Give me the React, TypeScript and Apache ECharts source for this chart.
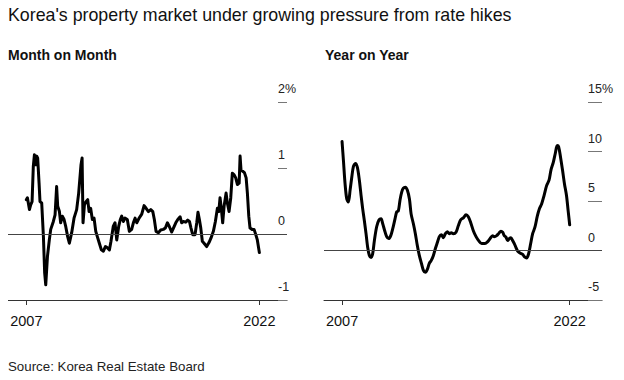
import React, { useEffect, useRef } from "react";
import * as echarts from "echarts";

const TITLE = "Korea's property market under growing pressure from rate hikes";
const LEFT_SUBTITLE = "Month on Month";
const RIGHT_SUBTITLE = "Year on Year";
const SOURCE = "Source: Korea Real Estate Board";

const xTickYears = [2007, 2022];

const momYears = [
  2007.0, 2007.07, 2007.2, 2007.28, 2007.37, 2007.45, 2007.52, 2007.6, 2007.67, 2007.73,
  2007.82, 2007.88, 2007.99, 2008.1, 2008.18, 2008.25, 2008.36, 2008.48, 2008.57, 2008.74,
  2008.85, 2008.95, 2009.02, 2009.13, 2009.21, 2009.32, 2009.43, 2009.53, 2009.66, 2009.77,
  2009.92, 2010.07, 2010.24, 2010.37, 2010.52, 2010.59, 2010.65, 2010.74, 2010.84, 2010.95,
  2011.04, 2011.14, 2011.25, 2011.36, 2011.47, 2011.57, 2011.7, 2011.83, 2011.96, 2012.09,
  2012.22, 2012.35, 2012.45, 2012.6, 2012.71, 2012.82, 2012.95, 2013.05, 2013.14, 2013.25,
  2013.35, 2013.5, 2013.63, 2013.78, 2013.89, 2014.0, 2014.11, 2014.26, 2014.43, 2014.58,
  2014.71, 2014.86, 2015.01, 2015.14, 2015.24, 2015.35, 2015.5, 2015.65, 2015.82, 2015.95,
  2016.08, 2016.21, 2016.36, 2016.47, 2016.62, 2016.75, 2016.9, 2017.0, 2017.11, 2017.26,
  2017.39, 2017.5, 2017.6, 2017.71, 2017.86, 2017.97, 2018.05, 2018.14, 2018.23, 2018.33,
  2018.44, 2018.61, 2018.76, 2018.89, 2019.04, 2019.17, 2019.3, 2019.39, 2019.47, 2019.56,
  2019.64, 2019.73, 2019.86, 2019.94, 2020.05, 2020.16, 2020.26, 2020.37, 2020.48, 2020.59,
  2020.7, 2020.76, 2020.82, 2020.93, 2021.04, 2021.15, 2021.23, 2021.32, 2021.4, 2021.53,
  2021.66, 2021.77, 2021.87, 2022.0,
];
const momValues = [
  0.52, 0.55, 0.37, 0.44, 0.49, 1.03, 1.2, 1.05, 1.18, 1.15,
  0.77, 0.49, 0.47, -0.04, -0.59, -0.77, -0.34, -0.09, 0.07, 0.19,
  0.29, 0.72, 0.42, 0.34, 0.17, 0.27, 0.22, 0.12, -0.04, -0.14,
  0.02, 0.24, 0.37, 0.62, 1.05, 1.15, 0.17, 0.44, 0.49, 0.52,
  0.34, 0.39, 0.22, 0.24, 0.04, -0.04, -0.14, -0.24, -0.26, -0.19,
  -0.21, -0.24, -0.11, 0.12, 0.17, -0.09, 0.12, 0.22, 0.27, 0.19,
  0.24, 0.22, 0.04, 0.07, 0.17, 0.24, 0.17, 0.24, 0.3, 0.43,
  0.39, 0.34, 0.37, 0.34, 0.22, 0.04, 0.02, 0.06, 0.07, 0.09,
  0.17, 0.11, 0.03, 0.09, 0.17, 0.22, 0.26, 0.17, 0.19, 0.18,
  0.21, 0.19, 0.09, -0.01, -0.01, 0.17, 0.33, 0.22, 0.09, -0.11,
  -0.14, -0.19, -0.13, -0.06, 0.04, 0.19, 0.39, 0.34, 0.55, 0.37,
  0.17, 0.42, 0.62, 0.47, 0.34, 0.55, 0.92, 0.9, 0.85, 0.75,
  0.77, 1.18, 0.97, 0.95, 0.93, 0.85, 0.62, 0.27, 0.09, 0.07,
  0.07, -0.01, -0.09, -0.28,
];

const yoyYears = [
  2007.0, 2007.09, 2007.2, 2007.31, 2007.42, 2007.53, 2007.64, 2007.75, 2007.88, 2008.01,
  2008.14, 2008.25, 2008.36, 2008.47, 2008.58, 2008.69, 2008.8, 2008.91, 2009.02, 2009.13,
  2009.28, 2009.44, 2009.57, 2009.68, 2009.81, 2009.94, 2010.07, 2010.21, 2010.34, 2010.49,
  2010.6, 2010.71, 2010.82, 2010.93, 2011.04, 2011.17, 2011.3, 2011.44, 2011.55, 2011.7,
  2011.83, 2011.96, 2012.09, 2012.23, 2012.36, 2012.49, 2012.62, 2012.75, 2012.88, 2013.02,
  2013.15, 2013.28, 2013.41, 2013.54, 2013.68, 2013.81, 2013.94, 2014.07, 2014.2, 2014.33,
  2014.51, 2014.66, 2014.82, 2014.99, 2015.17, 2015.32, 2015.48, 2015.65, 2015.83, 2016.0,
  2016.2, 2016.42, 2016.6, 2016.75, 2016.92, 2017.03, 2017.19, 2017.34, 2017.47, 2017.58,
  2017.69, 2017.8, 2017.91, 2018.02, 2018.13, 2018.24, 2018.35, 2018.46, 2018.57, 2018.72,
  2018.9, 2019.03, 2019.16, 2019.29, 2019.43, 2019.56, 2019.71, 2019.87, 2020.0, 2020.15,
  2020.31, 2020.48, 2020.64, 2020.77, 2020.92, 2021.05, 2021.18, 2021.27, 2021.4, 2021.53,
  2021.66, 2021.79, 2021.9, 2022.0,
];
const yoyValues = [
  11.0, 9.1, 6.7, 5.2, 4.9, 6.1, 7.4, 8.5, 8.8, 8.4,
  7.1, 5.6, 4.2, 3.0, 1.7, 0.3, -0.5, -0.7, -0.3, 1.0,
  2.4, 3.1, 3.2, 2.7, 2.0, 1.4, 1.2, 1.5, 2.2, 3.2,
  3.9, 4.0, 5.1, 5.9, 6.3, 6.4, 6.1, 5.2, 3.7, 2.7,
  1.7, 0.5, -0.5, -1.3, -2.0, -2.2, -1.9, -1.3, -1.0, -0.5,
  0.2, 0.8, 1.4, 1.6, 1.3, 1.7, 1.9, 1.7, 1.8, 1.7,
  1.85, 2.5, 3.1, 3.3, 3.6, 3.4, 2.8, 2.0, 1.4, 1.0,
  0.7, 0.7, 0.9, 1.2, 1.5, 1.4, 1.5, 1.75, 1.95, 1.85,
  1.5, 1.35, 1.0, 1.2, 1.3, 1.0, 0.7, 0.3, -0.05, -0.25,
  -0.4, -0.65, -0.75, -0.35, 0.7, 1.7, 2.35, 3.5, 4.2, 4.7,
  5.55, 6.55, 7.1, 8.15, 8.9, 9.8, 10.6, 10.5, 9.4, 8.1,
  6.7, 5.55, 4.0, 2.6,
];

const FONT = "'Liberation Sans', Arial, Helvetica, sans-serif";

function zip(xs: number[], ys: number[]) {
  return xs.map((x, i) => [x, ys[i]]);
}

export default function App() {
  const ref = useRef<HTMLDivElement>(null);

  useEffect(() => {
    if (!ref.current) return;
    const chart = echarts.init(ref.current, null, { renderer: "svg" });

    const xAxisBase = (min: number, max: number, gridIndex: number) => ({
      type: "value",
      gridIndex,
      min,
      max,
      position: "bottom",
      axisLine: { show: true, onZero: false, lineStyle: { color: "#333", width: 1 } },
      axisTick: {
        show: true,
        length: 5,
        customValues: xTickYears,
        lineStyle: { color: "#333", width: 1 },
      },
      axisLabel: {
        show: true,
        customValues: xTickYears,
        fontSize: 14.5,
        fontFamily: FONT,
        color: "#111",
        margin: 13,
        formatter: (v: number) => String(Math.round(v)),
      },
      splitLine: { show: false },
    });

    const yAxisBase = (
      min: number,
      max: number,
      interval: number,
      tickLen: number,
      gridIndex: number
    ) => ({
      type: "value",
      gridIndex,
      position: "right",
      min,
      max,
      interval,
      axisLine: { show: false },
      axisTick: {
        show: true,
        inside: true,
        length: tickLen,
        lineStyle: { color: "#777", width: 1 },
      },
      axisLabel: {
        show: true,
        margin: -tickLen,
        align: "left",
        verticalAlign: "bottom",
        lineHeight: 12,
        padding: [0, 0, 7, 0],
        fontSize: 12.5,
        fontFamily: FONT,
        color: "#222",
        formatter: (v: number) => (v === max ? `${v}%` : String(v)),
      },
      splitLine: { show: false },
    });

    const zeroLine = {
      silent: true,
      symbol: "none",
      label: { show: false },
      lineStyle: { color: "#444", width: 1, type: "solid" },
      data: [{ yAxis: 0 }],
    };

    chart.setOption({
      animation: false,
      backgroundColor: "#fff",
      grid: [
        { left: 8, right: 337, top: 102, bottom: 80 },
        { left: 324, right: 22, top: 102, bottom: 80 },
      ],
      xAxis: [xAxisBase(2005.82, 2023.78, 0), xAxisBase(2005.81, 2024.13, 1)],
      yAxis: [yAxisBase(-1, 2, 1, 9, 0), yAxisBase(-5, 15, 5, 14, 1)],
      graphic: [
        {
          type: "text",
          x: 8,
          y: 14.5,
          style: {
            text: TITLE,
            fontSize: 17.8,
            fontFamily: FONT,
            fill: "#111",
            align: "left",
            verticalAlign: "middle",
          },
        },
        {
          type: "text",
          x: 8,
          y: 54.7,
          style: {
            text: LEFT_SUBTITLE,
            fontSize: 14,
            fontWeight: "bold",
            fontFamily: FONT,
            fill: "#111",
            align: "left",
            verticalAlign: "middle",
          },
        },
        {
          type: "text",
          x: 325,
          y: 54.7,
          style: {
            text: RIGHT_SUBTITLE,
            fontSize: 14,
            fontWeight: "bold",
            fontFamily: FONT,
            fill: "#111",
            align: "left",
            verticalAlign: "middle",
          },
        },
        {
          type: "text",
          x: 8,
          y: 366.3,
          style: {
            text: SOURCE,
            fontSize: 13.3,
            fontFamily: FONT,
            fill: "#222",
            align: "left",
            verticalAlign: "middle",
          },
        },
      ],
      series: [
        {
          type: "line",
          xAxisIndex: 0,
          yAxisIndex: 0,
          data: zip(momYears, momValues),
          showSymbol: false,
          symbol: "none",
          lineStyle: { color: "#000", width: 3, join: "round", cap: "round" },
          markLine: zeroLine,
          z: 3,
        },
        {
          type: "line",
          xAxisIndex: 1,
          yAxisIndex: 1,
          data: zip(yoyYears, yoyValues),
          showSymbol: false,
          symbol: "none",
          smooth: 0.3,
          lineStyle: { color: "#000", width: 3, join: "round", cap: "round" },
          markLine: zeroLine,
          z: 3,
        },
      ],
    });

    return () => chart.dispose();
  }, []);

  return <div ref={ref} style={{ width: 624, height: 380, margin: -8 }} />;
}
